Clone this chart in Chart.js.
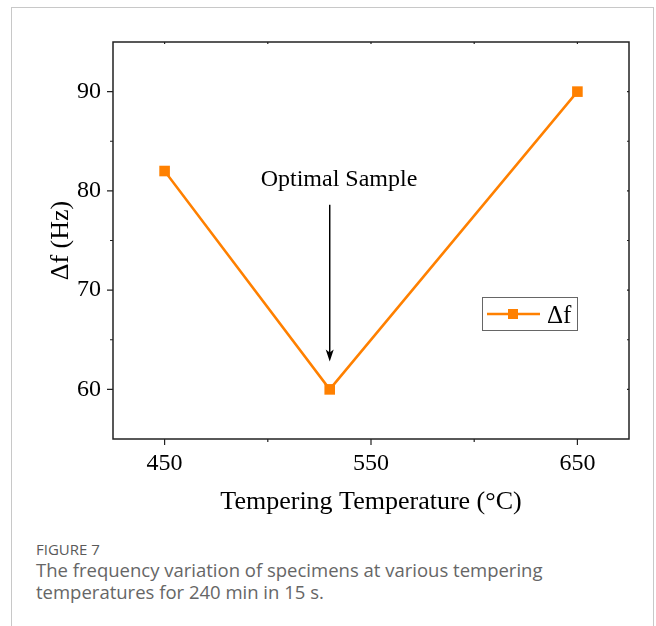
<!DOCTYPE html>
<html>
<head>
<meta charset="utf-8">
<script src="https://cdn.jsdelivr.net/npm/chart.js@4"></script>
<style>
  body { margin: 0; background: #fff; }
  #frame {
    position: absolute; left: 11px; top: 7px; width: 643px; height: 640px;
    border: 1px solid #c8c8c8; box-sizing: border-box;
  }
  #chart { position: absolute; left: 0; top: 0; }
  #caption {
    position: absolute; left: 36px; top: 540px;
    font-family: "Open Sans", sans-serif; color: #666;
  }
  #caption .num { font-size: 15px; line-height: 19px; color: #5a5a5a; }
  #caption .txt { font-size: 18.5px; line-height: 22px; }
</style>
</head>
<body>
<div id="frame"></div>
<canvas id="chart" width="656" height="530"></canvas>
<div id="caption">
  <div class="num">FIGURE 7</div>
  <div class="txt">The frequency variation of specimens at various tempering<br>temperatures for 240 min in 15 s.</div>
</div>
<script>
const temps = [450, 530, 650];
const deltaF = [82, 60, 90];

const xTicks = [450, 500, 550, 600, 650];
const xLabels = [450, 550, 650];
const yTicks = [60, 65, 70, 75, 80, 85, 90];
const yLabels = [60, 70, 80, 90];

const noteText = 'Optimal Sample';
const noteAt = [534.5, 81.1];
const arrowX = 530;
const arrowFrom = 78.6;
const arrowTo = 62.8;

const orange = 'rgb(255,128,0)';
const serif = '"Liberation Serif", "Times New Roman", serif';

const extras = {
  id: 'extras',
  afterDatasetsDraw(chart) {
    const ctx = chart.ctx;
    const x = chart.scales.x, y = chart.scales.y;
    const a = chart.chartArea;
    ctx.save();

    // cadre
    ctx.strokeStyle = '#222';
    ctx.lineWidth = 1.5;
    ctx.strokeRect(a.left, a.top, a.right - a.left, a.bottom - a.top);

    // graduations
    ctx.lineWidth = 1.2;
    ctx.beginPath();
    xTicks.forEach(v => {
      const px = x.getPixelForValue(v);
      const len = xLabels.includes(v) ? 6 : 3;
      ctx.moveTo(px, a.bottom); ctx.lineTo(px, a.bottom + len);
      ctx.moveTo(px, a.top); ctx.lineTo(px, a.top + 2);
    });
    yTicks.forEach(v => {
      const py = y.getPixelForValue(v);
      const len = yLabels.includes(v) ? 6 : 3;
      ctx.moveTo(a.left, py); ctx.lineTo(a.left - len, py);
      ctx.moveTo(a.right, py); ctx.lineTo(a.right - 2, py);
    });
    ctx.stroke();

    // annotation
    ctx.fillStyle = '#000';
    ctx.font = '24px ' + serif;
    ctx.textAlign = 'center';
    ctx.textBaseline = 'middle';
    ctx.fillText(noteText, x.getPixelForValue(noteAt[0]), y.getPixelForValue(noteAt[1]));

    const ax = x.getPixelForValue(arrowX);
    const y0 = y.getPixelForValue(arrowFrom);
    const y1 = y.getPixelForValue(arrowTo);
    ctx.strokeStyle = '#000';
    ctx.lineWidth = 1.5;
    ctx.beginPath();
    ctx.moveTo(ax, y0); ctx.lineTo(ax, y1 - 8);
    ctx.stroke();
    ctx.beginPath();
    ctx.moveTo(ax, y1);
    ctx.lineTo(ax - 4, y1 - 12);
    ctx.lineTo(ax, y1 - 9);
    ctx.lineTo(ax + 4, y1 - 12);
    ctx.closePath();
    ctx.fill();

    // légende
    const lx = a.right - 147, ly = a.top + 255;
    ctx.strokeStyle = '#666';
    ctx.lineWidth = 1;
    ctx.strokeRect(lx + 0.5, ly + 0.5, 95, 33);
    ctx.strokeStyle = orange;
    ctx.lineWidth = 2.5;
    ctx.beginPath();
    ctx.moveTo(lx + 5, ly + 17); ctx.lineTo(lx + 58, ly + 17);
    ctx.stroke();
    ctx.fillStyle = orange;
    ctx.fillRect(lx + 26, ly + 12, 10, 10);
    ctx.fillStyle = '#000';
    ctx.font = '25px ' + serif;
    ctx.textAlign = 'left';
    ctx.textBaseline = 'alphabetic';
    ctx.fillText('Δf', lx + 65, ly + 26);

    ctx.restore();
  }
};

const ctx = document.getElementById('chart').getContext('2d');
const chart = new Chart(ctx, {
  type: 'line',
  data: {
    datasets: [{
      label: 'Δf',
      data: temps.map((t, i) => ({ x: t, y: deltaF[i] })),
      borderColor: orange,
      backgroundColor: orange,
      borderWidth: 2.5,
      pointStyle: 'rect',
      pointRadius: 7.5,
      pointBorderWidth: 0,
      tension: 0
    }]
  },
  options: {
    responsive: false,
    animation: false,
    layout: { padding: { left: 0, top: 42, right: 27, bottom: 0 } },
    plugins: { legend: { display: false }, tooltip: { enabled: false } },
    scales: {
      x: {
        type: 'linear',
        min: 425,
        max: 675,
        afterBuildTicks: s => { s.ticks = xTicks.map(v => ({ value: v })); },
        afterFit: s => { s.height = 91; },
        grid: { display: false, drawTicks: false },
        border: { display: false },
        ticks: {
          padding: 10,
          color: '#000',
          font: { family: serif, size: 24 },
          maxRotation: 0,
          autoSkip: false,
          callback: v => xLabels.includes(v) ? String(v) : ''
        },
        title: {
          display: true,
          text: 'Tempering Temperature (°C)',
          color: '#000',
          font: { family: serif, size: 26 },
          padding: { top: 0, bottom: 12 }
        }
      },
      y: {
        min: 55,
        max: 95,
        afterBuildTicks: s => { s.ticks = yTicks.map(v => ({ value: v })); },
        afterFit: s => { s.width = 113; },
        grid: { display: false, drawTicks: false },
        border: { display: false },
        ticks: {
          padding: 12,
          color: '#000',
          font: { family: serif, size: 24 },
          autoSkip: false,
          callback: v => yLabels.includes(v) ? String(v) : ''
        },
        title: {
          display: true,
          text: 'Δf (Hz)',
          color: '#000',
          font: { family: serif, size: 26 },
          padding: { top: 46, bottom: 0 }
        }
      }
    }
  },
  plugins: [extras]
});
</script>
</body>
</html>
